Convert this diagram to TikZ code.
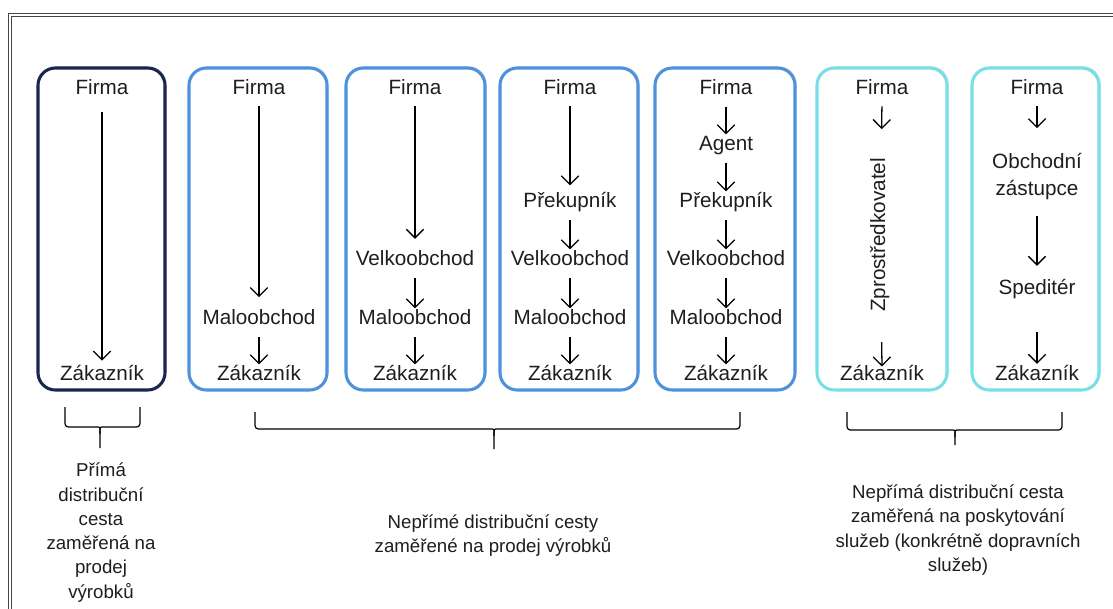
\documentclass[tikz,border=0pt]{standalone}
\usepackage{fontspec}
\setmainfont{Liberation Sans}
\usetikzlibrary{arrows.meta,shadows}

\definecolor{navyline}{RGB}{24,38,80}
\definecolor{blueline}{RGB}{78,145,220}
\definecolor{cyanline}{RGB}{118,224,230}
\definecolor{framegray}{RGB}{70,70,70}
\definecolor{textgray}{RGB}{30,30,30}

\begin{document}
\begin{tikzpicture}[x=0.75pt,y=0.75pt,yscale=-1,xscale=1,
    lbl/.style={inner sep=1.5pt, text=textgray, font=\fontsize{15.5}{20.25}\selectfont, text height=0.8em, text depth=0.2em},
    twolbl/.style={inner sep=1.5pt, text=textgray, align=center, font=\fontsize{15.5}{20.25}\selectfont},
    note/.style={inner sep=0pt, text=textgray, align=center, font=\fontsize{14}{18.2}\selectfont},
    arr/.style={-{Straight Barb[length=6.5pt,width=13pt]}, line width=0.95pt, shorten <=5.5pt, shorten >=2.5pt},
    chan/.style={rounded corners=13pt, line width=2.3pt, fill=white, drop shadow={opacity=0.3, shadow xshift=1.2pt, shadow yshift=1.2pt}},
    brc/.style={line width=0.9pt, rounded corners=2.5pt}]
        \useasboundingbox (0,0) rectangle (1113,608);
        \fill[white] (0,0) rectangle (1113,608);

        %Shape: Frame
        \draw[framegray, double, double distance=2pt, line width=0.8pt] (10,15) rectangle (1140,640);

        %Shape: Rounded Rectangles
        \draw[chan, draw=navyline] (38,68) rectangle (165,390);
        \draw[chan, draw=blueline] (189,68) rectangle (327,390);
        \draw[chan, draw=blueline] (346,68) rectangle (485,390);
        \draw[chan, draw=blueline] (500,68) rectangle (638,390);
        \draw[chan, draw=blueline] (655,68) rectangle (795,390);
        \draw[chan, draw=cyanline] (817,68) rectangle (947,390);
        \draw[chan, draw=cyanline] (972,68) rectangle (1099,390);

        % Text Node
        \node[lbl] (f1) at (102,90.7) {Firma};
        \node[lbl] (z1) at (102,376.7) {Zákazník};
        % Text Node
        \node[lbl] (f2) at (259,90.7) {Firma};
        \node[lbl] (m2) at (259,320.7) {Maloobchod};
        \node[lbl] (z2) at (259,376.7) {Zákazník};
        % Text Node
        \node[lbl] (f3) at (415,90.7) {Firma};
        \node[lbl] (v3) at (415,261.7) {Velkoobchod};
        \node[lbl] (m3) at (415,320.7) {Maloobchod};
        \node[lbl] (z3) at (415,376.7) {Zákazník};
        % Text Node
        \node[lbl] (f4) at (570,90.7) {Firma};
        \node[lbl] (p4) at (570,203.7) {Překupník};
        \node[lbl] (v4) at (570,261.7) {Velkoobchod};
        \node[lbl] (m4) at (570,320.7) {Maloobchod};
        \node[lbl] (z4) at (570,376.7) {Zákazník};
        % Text Node
        \node[lbl] (f5) at (726,90.7) {Firma};
        \node[lbl] (a5) at (726,146.7) {Agent};
        \node[lbl] (p5) at (726,203.7) {Překupník};
        \node[lbl] (v5) at (726,261.7) {Velkoobchod};
        \node[lbl] (m5) at (726,320.7) {Maloobchod};
        \node[lbl] (z5) at (726,376.7) {Zákazník};
        % Text Node
        \node[lbl] (f6) at (882,90.7) {Firma};
        \node[lbl, rotate=90] (zp6) at (881,235) {Zprostředkovatel};
        \node[lbl] (z6) at (882,376.7) {Zákazník};
        % Text Node
        \node[lbl] (f7) at (1037,90.7) {Firma};
        \node[twolbl] (oz7) at (1037,176.4) {Obchodní\\zástupce};
        \node[lbl] (s7) at (1037,290.7) {Speditér};
        \node[lbl] (z7) at (1037,376.7) {Zákazník};

        %Straight Lines
        \foreach \a/\b in {m2/z2, v3/m3, m3/z3, p4/v4, v4/m4, m4/z4, f5/a5, a5/p5, p5/v5, v5/m5, m5/z5}
            \draw[arr] (\a) -- (\b);
        \draw[arr, shorten <=9pt, shorten >=5.4pt] (f1) -- (z1);
        \draw[arr, shorten <=5pt, shorten >=11pt] (f2) -- (m2);
        \draw[arr, shorten <=5pt, shorten >=10.5pt] (f3) -- (v3);
        \draw[arr, shorten <=5pt, shorten >=7pt] (f4) -- (p4);
        \draw[arr, shorten <=5pt, shorten >=20pt] (f6) -- (zp6);
        \draw[arr, shorten <=21pt, shorten >=1pt] (zp6) -- (z6);
        \draw[arr, shorten <=5pt, shorten >=17pt] (f7) -- (oz7);
        \draw[arr, shorten <=10.5pt, shorten >=12pt] (oz7) -- (s7);
        \draw[arr, shorten <=24pt, shorten >=3pt] (s7) -- (z7);

        %Shape: Braces
        \draw[brc] (65,407) -- (65,427) -- (95,427) .. controls (100,427) .. (100,434) -- (100,448);
        \draw[brc] (140,407) -- (140,427) -- (105,427) .. controls (100,427) .. (100,434);
        \draw[brc] (255,412) -- (255,429) -- (489,429) .. controls (494,429) .. (494,436) -- (494,449);
        \draw[brc] (740,412) -- (740,429) -- (499,429) .. controls (494,429) .. (494,436);
        \draw[brc] (847,412) -- (847,430) -- (950,430) .. controls (955,430) .. (955,437) -- (955,445);
        \draw[brc] (1062,412) -- (1062,430) -- (960,430) .. controls (955,430) .. (955,437);

        % Text Node
        \node[note] (prima) at (101,532.5) {Přímá\\distribuční\\cesta\\zaměřená na\\prodej\\výrobků};
        % Text Node
        \node[note] (neprime) at (493,535.5) {Nepřímé distribuční cesty\\zaměřené na prodej výrobků};
        % Text Node
        \node[note] (sluzby) at (958,530) {Nepřímá distribuční cesta\\zaměřená na poskytování\\služeb (konkrétně dopravních\\služeb)};
\end{tikzpicture}
\end{document}
